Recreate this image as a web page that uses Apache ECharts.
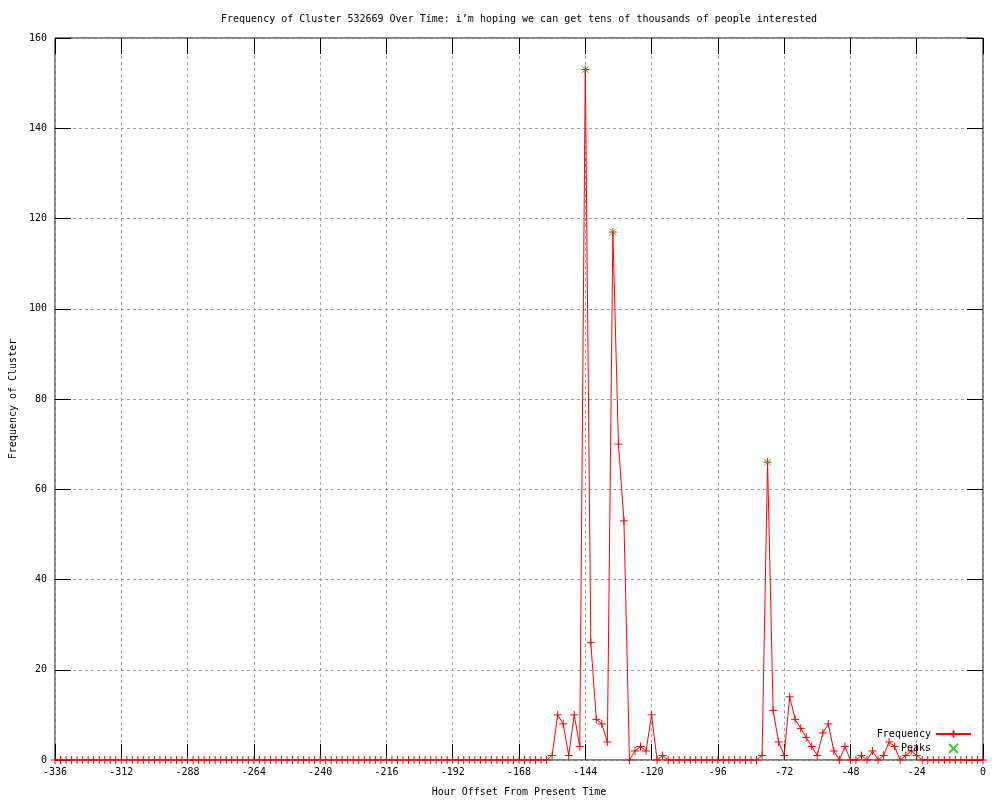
<!DOCTYPE html>
<html>
<head>
<meta charset="utf-8">
<script src="https://cdn.jsdelivr.net/npm/echarts@6/dist/echarts.min.js"></script>
<style>
html,body{margin:0;padding:0;background:#fff;}
#chart{width:1000px;height:800px;}
</style>
</head>
<body>
<div id="chart"></div>
<script>
const hours = [
 -336,-334,-332,-330,-328,-326,-324,-322,-320,-318,-316,-314,-312,-310,-308,-306,-304,-302,-300,-298,
 -296,-294,-292,-290,-288,-286,-284,-282,-280,-278,-276,-274,-272,-270,-268,-266,-264,-262,-260,-258,
 -256,-254,-252,-250,-248,-246,-244,-242,-240,-238,-236,-234,-232,-230,-228,-226,-224,-222,-220,-218,
 -216,-214,-212,-210,-208,-206,-204,-202,-200,-198,-196,-194,-192,-190,-188,-186,-184,-182,-180,-178,
 -176,-174,-172,-170,-168,-166,-164,-162,-160,-158,-156,-154,-152,-150,-148,-146,-144,-142,-140,-138,
 -136,-134,-132,-130,-128,-126,-124,-122,-120,-118,-116,-114,-112,-110,-108,-106,-104,-102,-100,-98,
 -96,-94,-92,-90,-88,-86,-84,-82,-80,-78,-76,-74,-72,-70,-68,-66,-64,-62,-60,-58,
 -56,-54,-52,-50,-48,-46,-44,-42,-40,-38,-36,-34,-32,-30,-28,-26,-24,-22,-20,-18,
 -16,-14,-12,-10,-8,-6,-4,-2,0
];
const frequency = [
 0,0,0,0,0,0,0,0,0,0,0,0,0,0,0,0,0,0,0,0,
 0,0,0,0,0,0,0,0,0,0,0,0,0,0,0,0,0,0,0,0,
 0,0,0,0,0,0,0,0,0,0,0,0,0,0,0,0,0,0,0,0,
 0,0,0,0,0,0,0,0,0,0,0,0,0,0,0,0,0,0,0,0,
 0,0,0,0,0,0,0,0,0,0,1,10,8,1,10,3,153,26,9,8,
 4,117,70,53,0,2,3,2,10,0,1,0,0,0,0,0,0,0,0,0,
 0,0,0,0,0,0,0,0,1,66,11,4,1,14,9,7,5,3,1,6,
 8,2,0,3,0,0,1,0,2,0,1,4,3,0,1,2,1,0,0,0,
 0,0,0,0,0,0,0,0,0
];
const peakHours = [-144, -134, -78];
const peakValues = [153, 117, 66];
const xTicks = [-336,-312,-288,-264,-240,-216,-192,-168,-144,-120,-96,-72,-48,-24,0];
const yTicks = [0,20,40,60,80,100,120,140,160];

const FONT = 'DejaVu Sans Mono';
const plusPath = 'path://M0,5L10,5M5,0L5,10';
const crossPath = 'path://M0,0L10,10M10,0L0,10';

const freqData = hours.map((h, i) => [h, frequency[i]]);
const peakData = peakHours.map((h, i) => [h, peakValues[i]]);

const gridLine = {show: true, lineStyle: {color: '#a0a0a0', type: [3, 3], width: 1}};
const tick = {show: true, inside: true, length: 16, lineStyle: {color: '#000', width: 1}};
const noLine = {show: false, onZero: false};

const chart = echarts.init(document.getElementById('chart'), null, {renderer: 'canvas'});
chart.setOption({
  animation: false,
  backgroundColor: '#fff',
  textStyle: {fontFamily: FONT, fontSize: 10, color: '#000'},
  title: {
    text: 'Frequency of Cluster 532669 Over Time: i’m hoping we can get tens of thousands of people interested',
    left: 216, top: 9,
    textStyle: {fontFamily: FONT, fontSize: 10, fontWeight: 'normal', color: '#000'}
  },
  grid: {left: 55, right: 17, top: 38, bottom: 40, outerBoundsMode: 'none', containLabel: false,
    show: true, borderColor: '#000', borderWidth: 1, backgroundColor: 'transparent'},
  legend: {
    orient: 'vertical', right: 23, top: 724, align: 'right',
    itemWidth: 35, itemHeight: 9, itemGap: 4,
    textStyle: {fontFamily: FONT, fontSize: 10, color: '#000'},
    data: ['Frequency', 'Peaks']
  },
  xAxis: [{
    type: 'value', min: -336, max: 0, interval: 24,
    name: 'Hour Offset From Present Time', nameLocation: 'middle', nameGap: 27,
    nameTextStyle: {fontFamily: FONT, fontSize: 10, color: '#000'},
    axisLine: noLine, axisTick: tick, splitLine: gridLine,
    axisLabel: {fontFamily: FONT, fontSize: 10, color: '#000', margin: 7,
      customValues: xTicks, showMinLabel: true, showMaxLabel: true}
  }, {
    type: 'value', min: -336, max: 0, interval: 24, position: 'top',
    axisLine: noLine, axisTick: tick, splitLine: {show: false}, axisLabel: {show: false}
  }],
  yAxis: [{
    type: 'value', min: 0, max: 160, interval: 20,
    name: 'Frequency of Cluster', nameLocation: 'middle', nameGap: 36, nameRotate: 90,
    nameTextStyle: {fontFamily: FONT, fontSize: 10, color: '#000'},
    axisLine: noLine, axisTick: tick, splitLine: gridLine,
    axisLabel: {fontFamily: FONT, fontSize: 10, color: '#000', margin: 8}
  }, {
    type: 'value', min: 0, max: 160, interval: 20, position: 'right',
    axisLine: noLine, axisTick: tick, splitLine: {show: false}, axisLabel: {show: false}
  }],
  series: [{
    name: 'Frequency', type: 'line', data: freqData,
    xAxisIndex: 0, yAxisIndex: 0,
    symbol: plusPath, symbolSize: 8, showAllSymbol: true,
    lineStyle: {color: '#ff0000', width: 1},
    itemStyle: {color: '#ff0000', borderColor: '#ff0000', borderWidth: 1},
    emphasis: {disabled: true}, z: 3
  }, {
    name: 'Peaks', type: 'scatter', data: peakData,
    xAxisIndex: 0, yAxisIndex: 0,
    symbol: crossPath, symbolSize: 7,
    itemStyle: {color: '#00c000', borderColor: '#00c000', borderWidth: 1},
    emphasis: {disabled: true}, z: 4
  }]
});
</script>
</body>
</html>
